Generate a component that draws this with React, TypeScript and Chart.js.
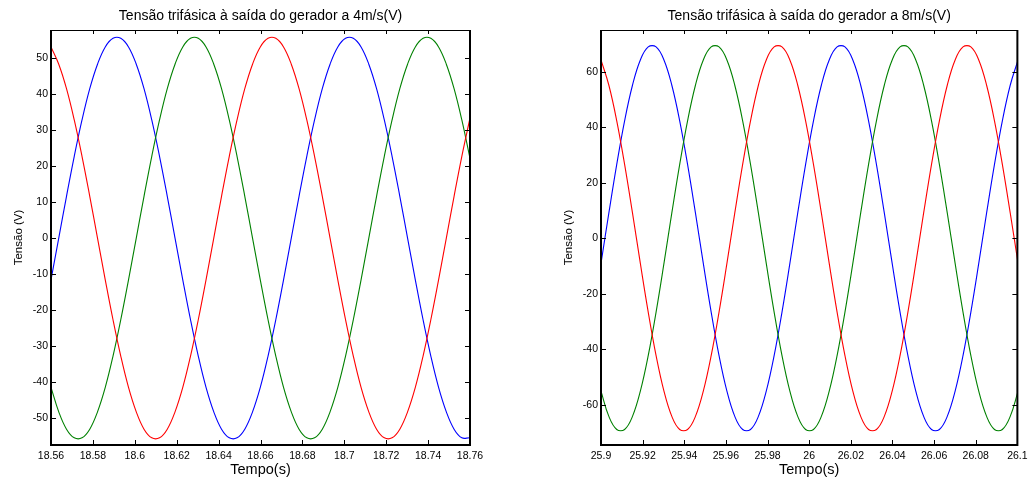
import React, { useEffect, useRef } from 'react';
import { Chart, registerables } from 'chart.js';

Chart.register(...registerables);

const FONT = '"Liberation Sans", Arial, Helvetica, sans-serif';

// ---------- Left panel: 4 m/s ----------
const leftTitle = 'Tensão trifásica à saída do gerador a 4m/s(V)';
const leftTime = [
  18.56, 18.5637, 18.5674, 18.5711, 18.5748, 18.5785, 18.5822, 18.5859, 18.5896, 18.5933,
  18.597, 18.6007, 18.6044, 18.6081, 18.6118, 18.6155, 18.6192, 18.6229, 18.6266, 18.6303,
  18.634, 18.6377, 18.6414, 18.6451, 18.6488, 18.6525, 18.6562, 18.6599, 18.6636, 18.6673,
  18.671, 18.6747, 18.6784, 18.6821, 18.6858, 18.6895, 18.6932, 18.6969, 18.7006, 18.7043,
  18.708, 18.7117, 18.7154, 18.7191, 18.7228, 18.7265, 18.7302, 18.7339, 18.7376, 18.7413,
  18.745, 18.7487, 18.7524, 18.7561, 18.7598,
];
const leftRed = [
  53.1, 48.3, 41.5, 32.8, 22.7, 11.6, 0,
  -11.6, -22.7, -32.8, -41.5, -48.3, -53.1, -55.5, -55.5, -53.1, -48.3, -41.5, -32.8, -22.7, -11.6, 0,
  11.6, 22.7, 32.8, 41.5, 48.3, 53.1, 55.5, 55.5, 53.1, 48.3, 41.5, 32.8, 22.7, 11.6, 0,
  -11.6, -22.7, -32.8, -41.5, -48.3, -53.1, -55.5, -55.5, -53.1, -48.3, -41.5, -32.8, -22.7, -11.6, 0,
  11.6, 22.7, 32.8,
];
const leftGreen = [
  -41.5, -48.3, -53.1, -55.5, -55.5, -53.1, -48.3, -41.5, -32.8, -22.7, -11.6, 0,
  11.6, 22.7, 32.8, 41.5, 48.3, 53.1, 55.5, 55.5, 53.1, 48.3, 41.5, 32.8, 22.7, 11.6, 0,
  -11.6, -22.7, -32.8, -41.5, -48.3, -53.1, -55.5, -55.5, -53.1, -48.3, -41.5, -32.8, -22.7, -11.6, 0,
  11.6, 22.7, 32.8, 41.5, 48.3, 53.1, 55.5, 55.5, 53.1, 48.3, 41.5, 32.8, 22.7,
];
const leftBlue = [
  -11.6, 0, 11.6, 22.7, 32.8, 41.5, 48.3, 53.1, 55.5, 55.5, 53.1, 48.3, 41.5, 32.8, 22.7, 11.6, 0,
  -11.6, -22.7, -32.8, -41.5, -48.3, -53.1, -55.5, -55.5, -53.1, -48.3, -41.5, -32.8, -22.7, -11.6, 0,
  11.6, 22.7, 32.8, 41.5, 48.3, 53.1, 55.5, 55.5, 53.1, 48.3, 41.5, 32.8, 22.7, 11.6, 0,
  -11.6, -22.7, -32.8, -41.5, -48.3, -53.1, -55.5, -55.5,
];
const leftXTicks = [18.56, 18.58, 18.6, 18.62, 18.64, 18.66, 18.68, 18.7, 18.72, 18.74, 18.76];
const leftXLabels = ['18.56', '18.58', '18.6', '18.62', '18.64', '18.66', '18.68', '18.7', '18.72', '18.74', '18.76'];
const leftYTicks = [-50, -40, -30, -20, -10, 0, 10, 20, 30, 40, 50];
const leftYLabels = ['-50', '-40', '-30', '-20', '-10', '0', '10', '20', '30', '40', '50'];

// ---------- Right panel: 8 m/s ----------
const rightTitle = 'Tensão trifásica à saída do gerador a 8m/s(V)';
const rightTime = [
  25.9, 25.90378, 25.90756, 25.91134, 25.91512, 25.9189, 25.92268, 25.92646, 25.93024, 25.93402,
  25.9378, 25.94158, 25.94536, 25.94914, 25.95292, 25.9567, 25.96048, 25.96426, 25.96804, 25.97182,
  25.9756, 25.97938, 25.98316, 25.98694, 25.99072, 25.9945, 25.99828, 26.00206, 26.00584, 26.00962,
  26.0134, 26.01718, 26.02096, 26.02474, 26.02852, 26.0323, 26.03608, 26.03986, 26.04364, 26.04742,
  26.0512, 26.05498, 26.05876, 26.06254, 26.06632, 26.0701, 26.07388, 26.07766, 26.08144, 26.08522,
  26.089, 26.09278, 26.09656, 26.10034,
];
const rightRed = [
  64.2, 55.1, 42.3, 26.6, 9.1, -9.1, -26.6, -42.3, -55.1, -64.2, -68.9, -68.9, -64.2, -55.1, -42.3, -26.6, -9.1, 9.1, 26.6, 42.3, 55.1, 64.2, 68.9, 68.9,
  64.2, 55.1, 42.3, 26.6, 9.1, -9.1, -26.6, -42.3, -55.1, -64.2, -68.9, -68.9, -64.2, -55.1, -42.3, -26.6, -9.1, 9.1, 26.6, 42.3, 55.1, 64.2, 68.9, 68.9,
  64.2, 55.1, 42.3, 26.6, 9.1, -9.1,
];
const rightGreen = [
  -55.1, -64.2, -68.9, -68.9, -64.2, -55.1, -42.3, -26.6, -9.1, 9.1, 26.6, 42.3, 55.1, 64.2, 68.9, 68.9, 64.2, 55.1, 42.3, 26.6, 9.1, -9.1, -26.6, -42.3,
  -55.1, -64.2, -68.9, -68.9, -64.2, -55.1, -42.3, -26.6, -9.1, 9.1, 26.6, 42.3, 55.1, 64.2, 68.9, 68.9, 64.2, 55.1, 42.3, 26.6, 9.1, -9.1, -26.6, -42.3,
  -55.1, -64.2, -68.9, -68.9, -64.2, -55.1,
];
const rightBlue = [
  -9.1, 9.1, 26.6, 42.3, 55.1, 64.2, 68.9, 68.9, 64.2, 55.1, 42.3, 26.6, 9.1, -9.1, -26.6, -42.3, -55.1, -64.2, -68.9, -68.9, -64.2, -55.1, -42.3, -26.6,
  -9.1, 9.1, 26.6, 42.3, 55.1, 64.2, 68.9, 68.9, 64.2, 55.1, 42.3, 26.6, 9.1, -9.1, -26.6, -42.3, -55.1, -64.2, -68.9, -68.9, -64.2, -55.1, -42.3, -26.6,
  -9.1, 9.1, 26.6, 42.3, 55.1, 64.2,
];
const rightXTicks = [25.9, 25.92, 25.94, 25.96, 25.98, 26, 26.02, 26.04, 26.06, 26.08, 26.1];
const rightXLabels = ['25.9', '25.92', '25.94', '25.96', '25.98', '26', '26.02', '26.04', '26.06', '26.08', '26.1'];
const rightYTicks = [-60, -40, -20, 0, 20, 40, 60];
const rightYLabels = ['-60', '-40', '-20', '0', '20', '40', '60'];

const xTitle = 'Tempo(s)';
const yTitle = 'Tensão (V)';

const framePlugin = {
  id: 'matlabFrame',
  afterDraw(chart: any) {
    const { ctx, chartArea: a, scales } = chart;
    const xs = scales.x;
    const ys = scales.y;
    ctx.save();
    ctx.strokeStyle = '#000';
    ctx.lineWidth = 1;
    ctx.beginPath();
    ctx.moveTo(a.left, a.top + 0.5);
    ctx.lineTo(a.right, a.top + 0.5);
    ctx.stroke();
    ctx.lineWidth = 2;
    ctx.beginPath();
    ctx.moveTo(a.left, a.top);
    ctx.lineTo(a.left, a.bottom);
    ctx.lineTo(a.right, a.bottom);
    ctx.lineTo(a.right, a.top);
    ctx.stroke();
    ctx.lineWidth = 1;
    ctx.beginPath();
    for (const t of xs.ticks) {
      const px = Math.round(xs.getPixelForValue(t.value)) + 0.5;
      ctx.moveTo(px, a.bottom);
      ctx.lineTo(px, a.bottom - 5);
      ctx.moveTo(px, a.top);
      ctx.lineTo(px, a.top + 4);
    }
    for (const t of ys.ticks) {
      const py = Math.round(ys.getPixelForValue(t.value)) + 0.5;
      ctx.moveTo(a.left, py);
      ctx.lineTo(a.left + 5, py);
      ctx.moveTo(a.right, py);
      ctx.lineTo(a.right - 5, py);
    }
    ctx.stroke();
    ctx.restore();
  },
};

type PanelProps = {
  left: number;
  width: number;
  padRight: number;
  yWidth: number;
  yTitlePad: number;
  title: string;
  time: number[];
  red: number[];
  green: number[];
  blue: number[];
  xMin: number;
  xMax: number;
  yMin: number;
  yMax: number;
  xTicks: number[];
  xLabels: string[];
  yTicks: number[];
  yLabels: string[];
};

const HEIGHT = 477;

function Panel(p: PanelProps) {
  const ref = useRef<HTMLCanvasElement>(null);
  useEffect(() => {
    const pts = (ys: number[]) => p.time.map((t, i) => ({ x: t, y: ys[i] }));
    const line = (ys: number[], color: string) => ({
      data: pts(ys),
      borderColor: color,
      backgroundColor: color,
      borderWidth: 1.1,
      pointRadius: 0,
      tension: 0.4,
      fill: false,
    });
    const chart = new Chart(ref.current as HTMLCanvasElement, {
      type: 'line',
      data: {
        datasets: [line(p.red, '#ff0000'), line(p.green, '#008000'), line(p.blue, '#0000ff')],
      },
      options: {
        responsive: false,
        animation: false,
        devicePixelRatio: 1,
        layout: { padding: { left: 0, right: p.padRight, top: 0, bottom: 0 } },
        plugins: {
          legend: { display: false },
          tooltip: { enabled: false },
          title: {
            display: true,
            text: p.title,
            fullSize: false,
            color: '#000',
            font: { family: FONT, size: 14, weight: 'normal', lineHeight: 1.2 },
            padding: { top: 7.6, bottom: 5.6 },
          },
        },
        scales: {
          x: {
            type: 'linear',
            min: p.xMin,
            max: p.xMax,
            afterBuildTicks: (s: any) => {
              s.ticks = p.xTicks.map((v) => ({ value: v }));
            },
            afterFit: (s: any) => {
              s.height = 32;
            },
            grid: { display: false, drawTicks: false },
            border: { display: false },
            ticks: {
              color: '#000',
              font: { family: FONT, size: 10.5 },
              padding: 4.4,
              maxRotation: 0,
              autoSkip: false,
              callback: (_v: any, i: number) => p.xLabels[i],
            },
            title: {
              display: true,
              text: xTitle,
              color: '#000',
              font: { family: FONT, size: 14.5, lineHeight: 1 },
              padding: { top: 0, bottom: 0 },
            },
          },
          y: {
            type: 'linear',
            min: p.yMin,
            max: p.yMax,
            afterBuildTicks: (s: any) => {
              s.ticks = p.yTicks.map((v) => ({ value: v }));
            },
            afterFit: (s: any) => {
              s.width = p.yWidth;
            },
            grid: { display: false, drawTicks: false },
            border: { display: false },
            ticks: {
              color: '#000',
              font: { family: FONT, size: 10.5 },
              padding: 3,
              autoSkip: false,
              callback: (_v: any, i: number) => p.yLabels[i],
            },
            title: {
              display: true,
              text: yTitle,
              color: '#000',
              font: { family: FONT, size: 11.5, lineHeight: 1 },
              padding: { top: p.yTitlePad, bottom: 0 },
            },
          },
        },
      } as any,
      plugins: [framePlugin],
    });
    return () => chart.destroy();
  }, []);
  return (
    <div style={{ position: 'absolute', left: p.left, top: 0, width: p.width, height: HEIGHT }}>
      <canvas
        ref={ref}
        width={p.width}
        height={HEIGHT}
        style={{ display: 'block', width: p.width, height: HEIGHT }}
      />
    </div>
  );
}

export default function App() {
  return (
    <div
      style={{
        position: 'absolute',
        left: 0,
        top: 0,
        width: 1032,
        height: HEIGHT,
        background: '#fff',
        overflow: 'hidden',
      }}
    >
      <Panel
        left={0}
        width={500}
        padRight={30}
        yWidth={51}
        yTitlePad={12.75}
        title={leftTitle}
        time={leftTime}
        red={leftRed}
        green={leftGreen}
        blue={leftBlue}
        xMin={18.56}
        xMax={18.76}
        yMin={-57.5}
        yMax={57.8}
        xTicks={leftXTicks}
        xLabels={leftXLabels}
        yTicks={leftYTicks}
        yLabels={leftYLabels}
      />
      <Panel
        left={516}
        width={516}
        padRight={13}
        yWidth={85}
        yTitlePad={47.25}
        title={rightTitle}
        time={rightTime}
        red={rightRed}
        green={rightGreen}
        blue={rightBlue}
        xMin={25.9}
        xMax={26.1}
        yMin={-74.5}
        yMax={75}
        xTicks={rightXTicks}
        xLabels={rightXLabels}
        yTicks={rightYTicks}
        yLabels={rightYLabels}
      />
    </div>
  );
}
